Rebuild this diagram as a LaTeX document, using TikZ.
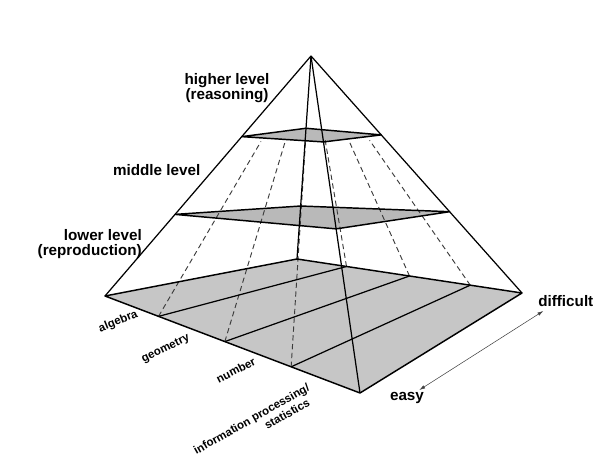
\documentclass[tikz,border=0pt]{standalone}
\usepackage{fontspec}
\setmainfont{Liberation Sans}
\usetikzlibrary{calc,arrows.meta}
\definecolor{basegrey}{RGB}{198,198,198}
\definecolor{slicegrey}{RGB}{185,185,185}
\definecolor{dashgrey}{RGB}{60,60,60}
\begin{document}
\begin{tikzpicture}[x=0.03cm,y=-0.03cm,
  edge/.style={line width=1.05pt, line join=round},
  rim/.style={line width=1.25pt, line join=round},
  cut/.style={dash pattern=on 4.5pt off 3pt, line width=0.8pt, draw=dashgrey},
  lab/.style={font=\fontsize{13}{12.5}\selectfont\bfseries, inner sep=0pt},
  sublab/.style={font=\fontsize{9.8}{11}\selectfont\bfseries, inner sep=0pt}]
\useasboundingbox (0,0) rectangle (609,460);
% pyramid corners
\coordinate (A) at (311,56);
\coordinate (L) at (105,296);
\coordinate (F) at (360,393);
\coordinate (R) at (522,293);
\coordinate (B) at (297,259);
% top slice
\coordinate (TL) at ($(A)!0.336!(L)$);
\coordinate (TF) at ($(A)!0.255!(F)$);
\coordinate (TR) at ($(A)!0.333!(R)$);
\coordinate (TB) at ($(A)!0.356!(B)$);
% middle slice
\coordinate (ML) at ($(A)!0.66!(L)$);
\coordinate (MF) at ($(A)!0.513!(F)$);
\coordinate (MR) at ($(A)!0.657!(R)$);
\coordinate (MB) at ($(A)!0.739!(B)$);
% base divisions
\coordinate (P1) at ($(L)!0.21!(F)$);
\coordinate (P2) at ($(L)!0.47!(F)$);
\coordinate (P3) at ($(L)!0.73!(F)$);
\coordinate (Q1) at ($(B)!0.22!(R)$);
\coordinate (Q2) at ($(B)!0.50!(R)$);
\coordinate (Q3) at ($(B)!0.77!(R)$);
% fills
\fill[basegrey] (L) -- (F) -- (R) -- (B) -- cycle;
\fill[slicegrey] (ML) -- (MF) -- (MR) -- (MB) -- cycle;
\fill[slicegrey] (TL) -- (TF) -- (TR) -- (TB) -- cycle;
% dashed partition lines
\draw[cut] (P1) -- ($(P1)!0.672!(A)$);
\draw[cut] (P2) -- ($(P2)!0.70!(A)$);
\draw[cut] (P3) -- ($(P3)!0.726!(A)$);
\draw[cut] (Q1) -- ($(Q1)!0.60!(A)$);
\draw[cut] (Q2) -- ($(Q2)!0.618!(A)$);
\draw[cut] (Q3) -- ($(Q3)!0.632!(A)$);
% base division lines
\draw[edge] (P1) -- (Q1);
\draw[edge] (P2) -- (Q2);
\draw[edge] (P3) -- (Q3);
% slice outlines
\draw[rim] (ML) -- (MF) -- (MR) -- (MB) -- cycle;
\draw[rim] (TL) -- (TF) -- (TR) -- (TB) -- cycle;
% base outline and edges
\draw[rim] (L) -- (F) -- (R) -- (B) -- cycle;
\draw[edge] (A) -- (L);
\draw[edge] (A) -- (F);
\draw[edge] (A) -- (R);
\draw[edge] (A) -- (B);
% level labels
\node[lab, align=center] (hi) at (227,88) {higher level\\(reasoning)};
\node[lab] (mid) at (156.7,170) {middle level};
\node[lab, align=right, anchor=east] (lo) at (142,244) {lower level\\(reproduction)};
% difficulty
\node[lab] (diff) at (565.8,300.7) {difficult};
\node[lab] (easy) at (407,398) {easy};
\coordinate (ar1) at (543.3,311);
\coordinate (ar2) at (419.3,390);
\draw[{Latex[length=5pt,width=3pt]}-{Latex[length=5pt,width=3pt]}, line width=0.45pt, draw=black!75] (ar1) -- (ar2);
% content labels
\node[sublab, rotate=22] (alg) at (118.3,321.7) {algebra};
\node[sublab, rotate=26] (geo) at (165.8,349) {geometry};
\node[sublab, rotate=27] (num) at (235.8,370) {number};
\node[sublab, rotate=29.5, align=right, font=\fontsize{9.8}{11.2}\selectfont\bfseries] (inf) at (254.6,424.6) {information processing/\\statistics\hspace*{6pt}};
\end{tikzpicture}
\end{document}
